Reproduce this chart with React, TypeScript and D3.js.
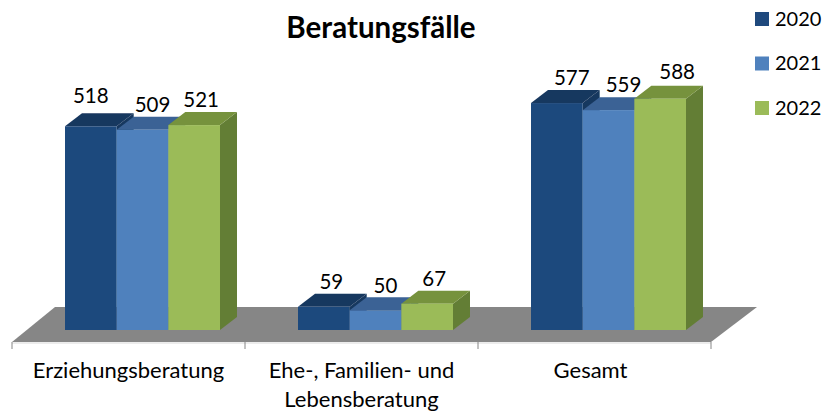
import React from "react";
import * as d3 from "d3";

const categories = [["Erziehungsberatung"], ["Ehe-, Familien- und", "Lebensberatung"], ["Gesamt"]];
const years = ["2020", "2021", "2022"];
const values2020 = [518, 59, 577];
const values2021 = [509, 50, 559];
const values2022 = [521, 67, 588];
const seriesValues = [values2020, values2021, values2022];

const front = ["#1f497d", "#4f81bd", "#9bbb59"];
const top = ["#17375e", "#3a6295", "#76923c"];
const side = ["#17375e", "#376092", "#647e35"];

// hand placed labels in the original, so they need a nudge per series/category
const labelNudgeX = [[0, 7.5, 15], [10, 10, 15], [7, 7, 17]];
const labelNudgeY = [[-23, -18, -18], [-18, -17, -18], [-18, -18, -20]];
const categoryNudgeX = [0, 0, -4];

const width = 826;
const height = 414;
const baseY = 330;
const floorFront = 342;
const floorBack = 307;
const depthX = 17;
const depthY = 13;
const font = "Lato, 'Open Sans', sans-serif";

const x0 = d3.scaleBand<number>().domain(d3.range(categories.length)).range([12, 711]);
const x1 = d3.scaleBand<number>().domain(d3.range(years.length)).range([53, 208]);
const y = d3.scaleLinear().domain([0, 600]).range([baseY, baseY - 236]);

const poly = d3.line();

export default function App() {
  const ticks = d3.range(categories.length + 1).map((i) => 12 + i * x0.step());
  return (
    <svg width={width} height={height} style={{ position: "absolute", left: 0, top: 0, background: "#fff" }}>
      <defs>
        <filter id="soft" x="-5%" y="-5%" width="110%" height="110%">
          <feGaussianBlur stdDeviation="0.5" />
        </filter>
      </defs>
      <text x={381} y={38} textAnchor="middle" fontFamily={font} fontWeight={700} fontSize={29.5} fill="#000">
        Beratungsfälle
      </text>

      <g filter="url(#soft)">
        <path
          d={poly([[12, floorFront], [711, floorFront], [757, floorBack], [55, floorBack]])! + "Z"}
          fill="#868686"
        />
        <line x1={12} x2={711} y1={floorFront + 1} y2={floorFront + 1} stroke="#d9d9d9" />
        {ticks.map((t) => (
          <line key={t} x1={t} x2={t} y1={floorFront} y2={floorFront + 7} stroke="#868686" />
        ))}

        {categories.map((_, c) =>
          years.map((_, s) => {
            const xl = x0(c)! + x1(s)!;
            const xr = xl + x1.bandwidth();
            const yt = y(seriesValues[s][c]);
            return (
              <g key={`${c}-${s}`}>
                <path
                  d={poly([[xr, yt], [xr + depthX, yt - depthY], [xr + depthX, baseY - depthY], [xr, baseY]])! + "Z"}
                  fill={side[s]}
                />
                <path
                  d={poly([[xl, yt], [xl + depthX, yt - depthY], [xr + depthX, yt - depthY], [xr, yt]])! + "Z"}
                  fill={top[s]}
                />
                <rect x={xl} y={yt} width={x1.bandwidth()} height={baseY - yt} fill={front[s]} />
              </g>
            );
          })
        )}
      </g>

      {categories.map((_, c) =>
        years.map((_, s) => (
          <text
            key={`${c}-${s}`}
            x={x0(c)! + x1(s)! + x1.bandwidth() / 2 + labelNudgeX[s][c]}
            y={y(seriesValues[s][c]) + labelNudgeY[s][c]}
            textAnchor="middle"
            fontFamily={font}
            fontSize={20.5}
            fill="#000"
          >
            {seriesValues[s][c]}
          </text>
        ))
      )}

      {categories.map((lines, c) =>
        lines.map((line, i) => (
          <text
            key={line}
            x={x0(c)! + x0.bandwidth() / 2 + categoryNudgeX[c]}
            y={378 + i * 29}
            textAnchor="middle"
            fontFamily={font}
            fontSize={22}
            fill="#000"
          >
            {line}
          </text>
        ))
      )}

      {years.map((yr, i) => (
        <g key={yr} transform={`translate(755,${12 + i * 44.5})`}>
          <rect width={14} height={14} fill={front[i]} />
          <text x={20} y={13.5} fontFamily={font} fontSize={20} fill="#000">
            {yr}
          </text>
        </g>
      ))}
    </svg>
  );
}
